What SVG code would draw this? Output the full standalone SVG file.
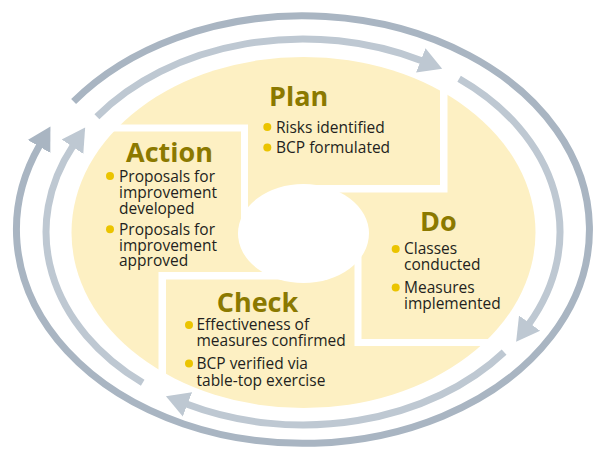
<svg xmlns="http://www.w3.org/2000/svg" width="594" height="452" viewBox="0 0 594 452">
  <style>
    .region { fill: #fdf0c3; }
    .title { font-family: "Open Sans", "Noto Sans", "Liberation Sans", sans-serif; font-weight: 700; font-size: 27px; fill: #8b7900; }
    .item { font-family: "Open Sans", "Noto Sans", "Liberation Sans", sans-serif; font-size: 15.5px; fill: #231f20; }
    .dot { fill: #ebc400; }
    .ring-outer { fill: none; stroke: #a9b5c2; stroke-width: 7; }
    .ring-inner { fill: none; stroke: #bec8d2; stroke-width: 7; }
  </style>
  <defs>
    <clipPath id="disc">
      <ellipse cx="303.5" cy="232.5" rx="232" ry="175.5"/>
    </clipPath>
    <marker id="headOuter" markerUnits="userSpaceOnUse" markerWidth="24" markerHeight="28" viewBox="0 -14 24 28" refX="1" refY="0" orient="auto">
      <path d="M0,-13 L23,0 L0,13 Z" fill="#a9b5c2"/>
    </marker>
    <marker id="headInner" markerUnits="userSpaceOnUse" markerWidth="24" markerHeight="28" viewBox="0 -14 24 28" refX="1" refY="0" orient="auto">
      <path d="M0,-13 L23,0 L0,13 Z" fill="#bec8d2"/>
    </marker>
  </defs>

  <rect width="594" height="452" fill="#ffffff"/>

  <!-- cycle rings -->
  <g id="connectors">
    <path class="ring-outer" marker-end="url(#headOuter)" d="M73.6,101.5 A286.5,213.75 0 1 1 39.5,145.6"/>
    <path class="ring-inner" marker-end="url(#headInner)" d="M96.9,116.7 A257,193 0 0 1 421.7,60.8"/>
    <path class="ring-inner" marker-end="url(#headInner)" d="M459.1,78.7 A257,193 0 0 1 529,323.9"/>
    <path class="ring-inner" marker-end="url(#headInner)" d="M504.1,352.1 A257,193 0 0 1 186.5,404"/>
    <path class="ring-inner" marker-end="url(#headInner)" d="M142.7,382.8 A257,193 0 0 1 73,145.9"/>
  </g>

  <g id="plan">
    <path class="region" clip-path="url(#disc)" d="M0,0 H440 V185 H303 V233 H248 V124.5 H0 Z"/>
    <text class="title" x="269" y="106">Plan</text>
    <circle class="dot" cx="267.3" cy="127" r="4"/>
    <text class="item" x="276" y="132.7">Risks identified</text>
    <circle class="dot" cx="267.3" cy="147.5" r="4"/>
    <text class="item" x="276" y="152.7">BCP formulated</text>
  </g>

  <g id="do">
    <path class="region" clip-path="url(#disc)" d="M447.5,0 H594 V339 H361.5 V233 H303 V192.5 H447.5 Z"/>
    <text class="title" x="420" y="231">Do</text>
    <circle class="dot" cx="395.7" cy="249" r="4"/>
    <text class="item" x="404" y="254.3">Classes</text>
    <text class="item" x="404" y="270.3">conducted</text>
    <circle class="dot" cx="395.7" cy="287.5" r="4"/>
    <text class="item" x="404" y="292.7">Measures</text>
    <text class="item" x="404" y="308.5">implemented</text>
  </g>

  <g id="check">
    <path class="region" clip-path="url(#disc)" d="M166,279.5 H303 V233 H354.5 V346 H594 V452 H166 Z"/>
    <text class="title" x="216.7" y="311.7">Check</text>
    <circle class="dot" cx="189" cy="325" r="4"/>
    <text class="item" x="196.5" y="330">Effectiveness of</text>
    <text class="item" x="196.5" y="346">measures confirmed</text>
    <circle class="dot" cx="189" cy="363.5" r="4"/>
    <text class="item" x="196.5" y="369.3">BCP verified via</text>
    <text class="item" x="196.5" y="386">table-top exercise</text>
  </g>

  <g id="action">
    <path class="region" clip-path="url(#disc)" d="M0,131.5 H241 V233 H303 V272 H158.5 V452 H0 Z"/>
    <text class="title" x="126" y="161.7">Action</text>
    <circle class="dot" cx="110" cy="176" r="4"/>
    <text class="item" x="119" y="181.7">Proposals for</text>
    <text class="item" x="119" y="197.7">improvement</text>
    <text class="item" x="119" y="213.5">developed</text>
    <circle class="dot" cx="110" cy="229.3" r="4"/>
    <text class="item" x="119" y="234.7">Proposals for</text>
    <text class="item" x="119" y="250.5">improvement</text>
    <text class="item" x="119" y="266.3">approved</text>
  </g>

  <!-- open hub in the middle of the cycle -->
  <ellipse id="hub" cx="303.5" cy="233.5" rx="65.5" ry="49.5" fill="#ffffff"/>
</svg>
